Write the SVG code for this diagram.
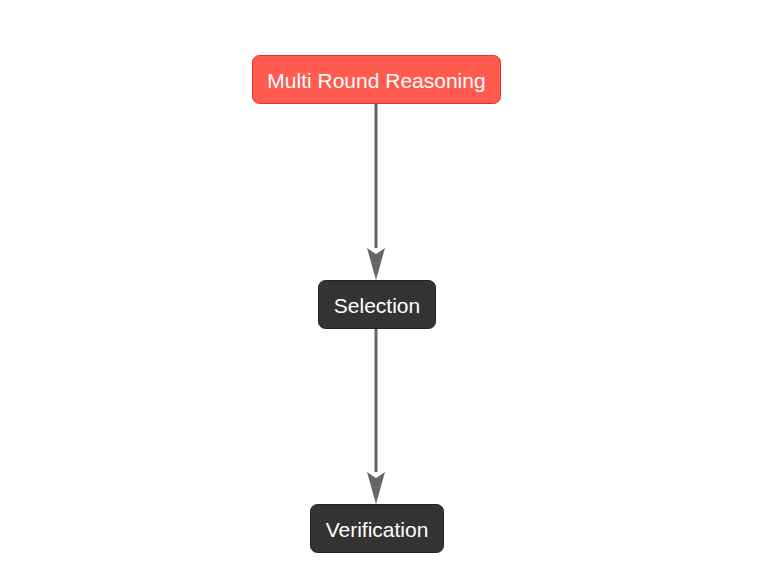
<svg xmlns="http://www.w3.org/2000/svg" width="774" height="588" viewBox="0 0 774 588">
<style>
.box{stroke-width:1}
.red{fill:#FF5B4F;stroke:#D9362C}
.dark{fill:#333333;stroke:#222222}
.lbl{font-family:"Liberation Sans",Arial,sans-serif;font-size:21px;fill:#FFFFFF;text-anchor:middle;dominant-baseline:central}
.edge{stroke:#666666;stroke-width:3;fill:none}
.head{fill:#666666}
</style>
<rect width="774" height="588" fill="#FFFFFF"/>
<g id="connectors">
<path class="edge" d="M376,104 L376,248"/>
<path class="head" d="M367,248 L376,280 L385,248 L376,254 Z"/>
<path class="edge" d="M376,329 L376,472"/>
<path class="head" d="M367,472 L376,504 L385,472 L376,478 Z"/>
</g>
<g id="n1">
<rect class="box red" x="252.5" y="55.5" width="248" height="48" rx="7"/>
<text class="lbl" x="376.5" y="80">Multi Round Reasoning</text>
</g>
<g id="n2">
<rect class="box dark" x="318.5" y="280.5" width="117" height="48" rx="7"/>
<text class="lbl" x="377" y="305">Selection</text>
</g>
<g id="n3">
<rect class="box dark" x="310.5" y="504.5" width="133" height="48" rx="7"/>
<text class="lbl" x="377" y="529">Verification</text>
</g>
</svg>
